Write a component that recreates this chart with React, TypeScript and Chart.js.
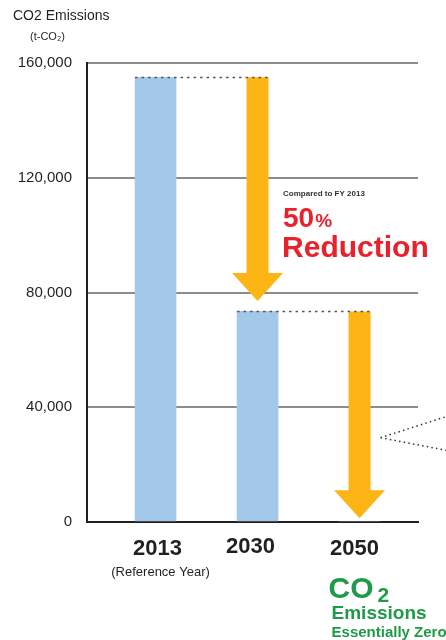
import React, { useEffect, useRef } from 'react';
import { Chart, registerables } from 'chart.js';

Chart.register(...registerables);

// ---- data ----
const categories = ['2013', '2030', '2050'];
const categoryNotes = ['(Reference Year)', '', ''];
const emissions = [155000, 73400, 0];
const arrowFrom: (number | null)[] = [null, 155000, 73400];
const arrowTo: (number | null)[] = [null, 77000, 1300];
const yTicks = [0, 40000, 80000, 120000, 160000];
const yAxisTitle = 'CO2 Emissions';
const yAxisUnit = '(t-CO₂)';
const reductionNote = 'Compared to FY 2013';
const reductionPct = '50';
const reductionWord = 'Reduction';
const zeroLines = ['Emissions', 'Essentially Zero'];

const FONT = '"Liberation Sans", Arial, Helvetica, sans-serif';
const TEXT = '#231f20';
const BLUE = '#a3c8ea';
const ORANGE = '#fdb515';
const RED = '#e8212b';
const GREEN = '#1e9a48';

const annotations = {
  id: 'annotations',
  afterDatasetsDraw(chart: any) {
    const ctx = chart.ctx;
    const xs = chart.scales.x;
    const ys = chart.scales.y;
    const barHalf = 20.5;
    const shaftHalf = 11;
    const headHalf = 25.5;
    const headH = 28;
    ctx.save();
    // arrows
    arrowFrom.forEach((from, i) => {
      const to = arrowTo[i];
      if (from == null || to == null) return;
      const cx = xs.getPixelForValue(i);
      const y0 = ys.getPixelForValue(from);
      const y1 = ys.getPixelForValue(to);
      ctx.fillStyle = ORANGE;
      ctx.beginPath();
      ctx.moveTo(cx - shaftHalf, y0);
      ctx.lineTo(cx + shaftHalf, y0);
      ctx.lineTo(cx + shaftHalf, y1 - headH);
      ctx.lineTo(cx + headHalf, y1 - headH);
      ctx.lineTo(cx, y1);
      ctx.lineTo(cx - headHalf, y1 - headH);
      ctx.lineTo(cx - shaftHalf, y1 - headH);
      ctx.closePath();
      ctx.fill();
    });
    // dotted connectors
    ctx.strokeStyle = '#555';
    ctx.lineWidth = 1.5;
    ctx.setLineDash([2.5, 4]);
    arrowFrom.forEach((from, i) => {
      if (from == null) return;
      const y = Math.round(ys.getPixelForValue(from)) + 0.5;
      ctx.beginPath();
      ctx.moveTo(xs.getPixelForValue(i - 1) - barHalf, y);
      ctx.lineTo(xs.getPixelForValue(i) + shaftHalf, y);
      ctx.stroke();
    });
    // callout lines to the right
    ctx.strokeStyle = '#333';
    ctx.setLineDash([1.5, 3.2]);
    const ax = xs.getPixelForValue(2) + 21;
    const ay = ys.getPixelForValue(29400);
    ctx.beginPath();
    ctx.moveTo(ax, ay);
    ctx.lineTo(chart.width, ys.getPixelForValue(36700));
    ctx.moveTo(ax, ay);
    ctx.lineTo(chart.width, ys.getPixelForValue(25000));
    ctx.stroke();
    ctx.restore();
  },
  afterDraw(chart: any) {
    const ctx = chart.ctx;
    const xs = chart.scales.x;
    const area = chart.chartArea;
    ctx.save();
    ctx.textBaseline = 'alphabetic';
    // axis title
    ctx.fillStyle = TEXT;
    ctx.textAlign = 'left';
    ctx.font = `14px ${FONT}`;
    ctx.fillText(yAxisTitle, 13, 20);
    ctx.font = `11px ${FONT}`;
    ctx.fillText(yAxisUnit, 30, 40);
    // category labels
    const dx = [2, -7, -5];
    const dy = [33, 31, 33];
    ctx.textAlign = 'center';
    categories.forEach((c, i) => {
      const x = xs.getPixelForValue(i) + dx[i];
      ctx.fillStyle = TEXT;
      ctx.font = `bold 22px ${FONT}`;
      ctx.fillText(c, x, area.bottom + dy[i]);
      if (categoryNotes[i]) {
        ctx.font = `13px ${FONT}`;
        ctx.fillText(categoryNotes[i], x + 3, area.bottom + 54);
      }
    });
    // reduction annotation
    ctx.textAlign = 'left';
    const rx = xs.getPixelForValue(1) + 25.5;
    ctx.fillStyle = '#333';
    ctx.font = `bold 8px ${FONT}`;
    ctx.fillText(reductionNote, rx, 196);
    ctx.fillStyle = RED;
    ctx.font = `bold 28px ${FONT}`;
    ctx.fillText(reductionPct, rx, 227);
    const w = ctx.measureText(reductionPct).width;
    ctx.font = `bold 19px ${FONT}`;
    ctx.fillText('%', rx + w + 1, 227);
    ctx.font = `bold 30px ${FONT}`;
    ctx.fillText(reductionWord, rx - 1, 257);
    // zero annotation
    const gx = xs.getPixelForValue(2) - 31;
    ctx.fillStyle = GREEN;
    ctx.font = `bold 30px ${FONT}`;
    ctx.fillText('CO', gx, 598);
    const cw = ctx.measureText('CO').width;
    ctx.font = `bold 21px ${FONT}`;
    ctx.fillText('2', gx + cw + 4, 602);
    ctx.font = `bold 19px ${FONT}`;
    ctx.fillText(zeroLines[0], gx + 3, 619);
    ctx.font = `bold 15px ${FONT}`;
    ctx.fillText(zeroLines[1], gx + 3, 637);
    ctx.restore();
  },
};

export default function App() {
  const ref = useRef<HTMLCanvasElement>(null);
  useEffect(() => {
    if (!ref.current) return;
    const chart = new Chart(ref.current, {
      type: 'bar',
      data: {
        datasets: [
          {
            label: 'CO2 Emissions',
            data: emissions.map((v, i) => ({ x: i, y: v })),
            backgroundColor: BLUE,
            borderWidth: 0,
            barThickness: 41,
          },
        ],
      },
      options: {
        animation: false,
        responsive: false,
        devicePixelRatio: 1,
        layout: { padding: { top: 63, right: 28, left: 0, bottom: 0 } },
        plugins: { legend: { display: false }, tooltip: { enabled: false }, title: { display: false } },
        scales: {
          x: {
            type: 'linear',
            offset: false,
            min: -0.672,
            max: 2.573,
            grid: { display: false, drawTicks: false, offset: false },
            border: { display: true, color: TEXT, width: 2 },
            ticks: { display: false },
            afterFit: (s: any) => {
              s.height = 118;
            },
          },
          y: {
            min: 0,
            max: 160000,
            afterBuildTicks: (s: any) => {
              s.ticks = yTicks.map((v) => ({ value: v }));
            },
            grid: { color: '#8c8c8c', lineWidth: 2, drawTicks: false },
            border: { display: true, color: TEXT, width: 2 },
            ticks: {
              padding: 15,
              color: TEXT,
              font: { family: FONT, size: 15 },
              callback: (v: any) => Number(v).toLocaleString('en-US'),
            },
            afterFit: (s: any) => {
              s.width = 87;
            },
          },
        },
      },
      plugins: [annotations],
    });
    return () => chart.destroy();
  }, []);
  return (
    <div style={{ position: 'absolute', left: 0, top: 0, width: 446, height: 640, background: '#fff' }}>
      <canvas ref={ref} width={446} height={640} style={{ display: 'block' }} />
    </div>
  );
}
